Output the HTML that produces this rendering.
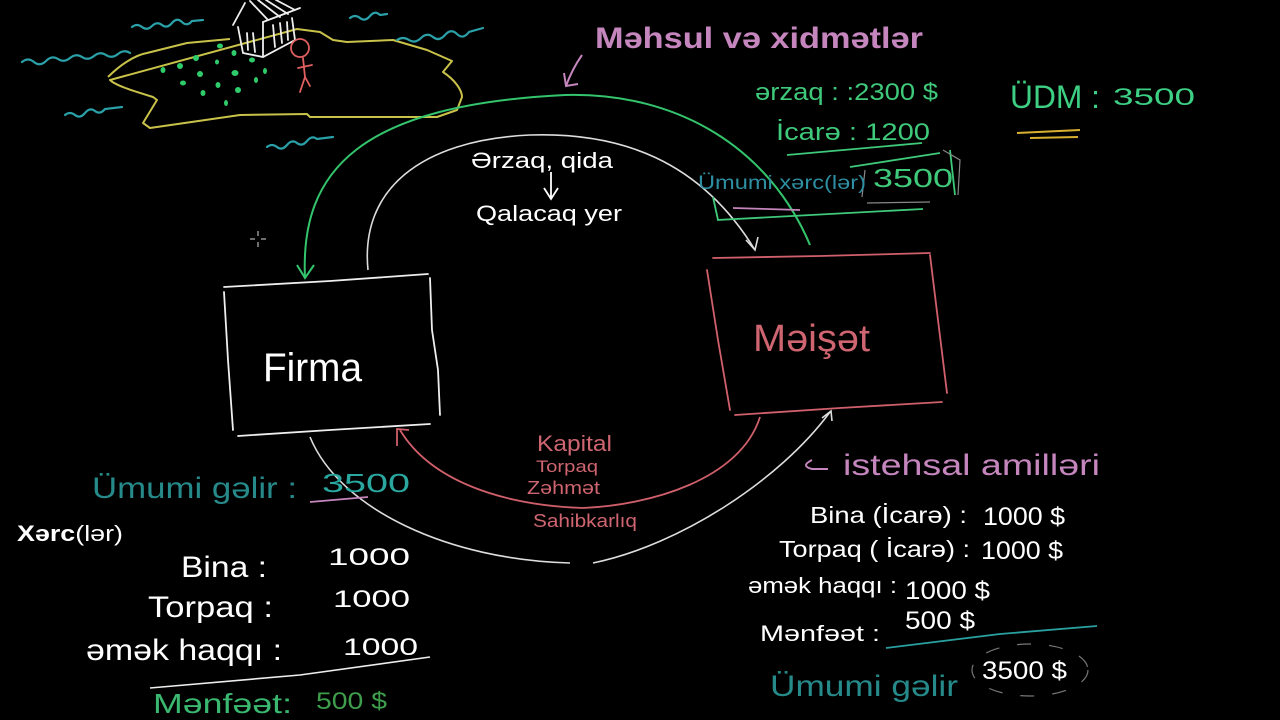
<!DOCTYPE html>
<html>
<head>
<meta charset="utf-8">
<style>
html,body{margin:0;padding:0;background:#000;}
svg{display:block;}
text{font-family:"Liberation Sans","DejaVu Sans",sans-serif;}
</style>
</head>
<body>
<svg width="1280" height="720" viewBox="0 0 1280 720" xmlns="http://www.w3.org/2000/svg">
<rect width="1280" height="720" fill="#000"/>

<!-- island -->
<path d="M108,77 C120,65 135,55 147,53 L187,43 L230,39 M297,29 L320,32 L333,40 L347,42 L393,40 L427,50 L452,61 L443,72 C455,80 462,90 462,97 L457,110 L437,117 L310,117 L307,114 L240,115 L150,128 L143,123 L157,100 L153,97 C130,90 115,85 110,80 Z" fill="none" stroke="#c9c24a" stroke-width="2" stroke-linejoin="round"/>
<!-- waves -->
<g fill="none" stroke="#2aa0a8" stroke-width="2.2" stroke-linecap="round">
<path d="M132,27 q5,-4 10,0 t10,-1 t10,-1 t10,-2 t10,-1 t10,-1 l11,-1"/>
<path d="M22,62 q6,-5 12,0 t12,-1 t12,-2 t12,-1 t12,-1 t12,-1 t12,-1 t12,-1 t12,-1"/>
<path d="M65,115 q5,-4 10,0 t10,-2 t10,-2 t10,-2 l17,-2"/>
<path d="M350,18 q5,-4 10,0 t10,-2 t10,-1 l7,-1"/>
<path d="M397,40 q6,-4 12,0 t12,-2 t12,-1 t12,-2 t12,-1 t12,-2 l14,-4"/>
<path d="M267,147 q5,-4 10,0 t10,-2 t10,-2 t10,-2 t10,-2 l16,-2"/>
</g>
<!-- house -->
<g fill="none" stroke="#eee" stroke-width="1.8" stroke-linecap="round">
<path d="M233,25 L245,3"/>
<path d="M238,27 L243,53 L263,57 L295,40 L292,18"/>
<path d="M263,22 L263,57"/>
<path d="M247,33 L248,50 M253,33 L255,52"/>
<path d="M250,1 L268,20 M258,0 L280,17 M266,0 L288,14 M276,0 L295,10 M263,22 L300,8"/>
<path d="M273,25 L275,47 M280,23 L282,43 M287,22 L288,40"/>
</g>
<!-- stick figure -->
<g fill="none" stroke="#e06060" stroke-width="1.8" stroke-linecap="round">
<circle cx="300" cy="48" r="9"/>
<path d="M303,58 L305,77 M298,68 L312,65 M305,77 L300,92 M305,77 L310,86"/>
</g>
<!-- crops -->
<g fill="#2ecc6a">
<ellipse cx="163" cy="70" rx="2.5" ry="3"/><ellipse cx="180" cy="66" rx="3" ry="3"/>
<ellipse cx="196" cy="58" rx="3" ry="3"/><ellipse cx="220" cy="46" rx="3" ry="2.5"/>
<ellipse cx="234" cy="53" rx="2.5" ry="3"/><ellipse cx="252" cy="60" rx="3" ry="2.5"/>
<ellipse cx="265" cy="71" rx="2" ry="3"/><ellipse cx="183" cy="83" rx="3" ry="2.5"/>
<ellipse cx="200" cy="74" rx="3" ry="3"/><ellipse cx="218" cy="85" rx="2.5" ry="3"/>
<ellipse cx="235" cy="73" rx="3.5" ry="3"/><ellipse cx="256" cy="80" rx="2" ry="3"/>
<ellipse cx="203" cy="93" rx="2.5" ry="3"/><ellipse cx="226" cy="103" rx="2" ry="3"/>
<ellipse cx="238" cy="90" rx="3" ry="3"/><ellipse cx="217" cy="62" rx="2" ry="2.5"/>
</g>

<!-- cursor -->
<g stroke="#ddd" stroke-width="1">
<path d="M250,239 L255,239 M261,239 L266,239 M258,231 L258,236 M258,242 L258,247"/>
</g>

<!-- green outer arc -->
<path d="M305,278 C300,170 360,105 565,95 C680,92 770,150 810,245" fill="none" stroke="#33c46c" stroke-width="2"/>
<path d="M297,265 L305,278 L314,265" fill="none" stroke="#33c46c" stroke-width="2"/>
<!-- white inner arc top -->
<path d="M368,270 C360,190 420,140 530,135 C620,132 700,160 755,250" fill="none" stroke="#ddd" stroke-width="1.6"/>
<path d="M746,240 L755,250 L758,237" fill="none" stroke="#ddd" stroke-width="1.6"/>
<!-- bottom white arcs -->
<path d="M310,437 C340,510 450,560 570,563" fill="none" stroke="#ddd" stroke-width="1.6"/>
<path d="M593,563 C680,545 780,480 830,412" fill="none" stroke="#ddd" stroke-width="1.6"/>
<path d="M822,418 L831,411 L832,421" fill="none" stroke="#ddd" stroke-width="1.6"/>
<!-- red arc -->
<path d="M760,417 C740,480 650,505 583,508 C500,505 430,480 400,430" fill="none" stroke="#cf5f6a" stroke-width="1.8"/>
<path d="M397,446 L397,429 L409,430" fill="none" stroke="#cf5f6a" stroke-width="1.8"/>

<!-- Firma box -->
<g fill="none" stroke="#eee" stroke-width="1.8" stroke-linecap="round">
<path d="M224,287 L330,281 L428,274"/>
<path d="M430,278 L432,330 L438,370 L440,415"/>
<path d="M430,424 L330,430 L238,436"/>
<path d="M224,292 L228,360 L233,430"/>
</g>
<text x="263" y="381" font-size="40" fill="#fff" textLength="99" lengthAdjust="spacingAndGlyphs">Firma</text>

<!-- Maisat box -->
<g fill="none" stroke="#d0606b" stroke-width="1.8" stroke-linecap="round">
<path d="M713,258 L820,256 L930,253"/>
<path d="M930,255 L938,320 L947,393"/>
<path d="M735,415 L840,408 L942,402"/>
<path d="M707,270 L718,340 L730,410"/>
</g>
<text x="753" y="351" font-size="38" fill="#cf6570" textLength="117" lengthAdjust="spacingAndGlyphs">Məişət</text>

<!-- top labels -->
<text x="595" y="48" font-size="30" font-weight="bold" fill="#c585bd" textLength="328" lengthAdjust="spacingAndGlyphs">Məhsul və xidmətlər</text>
<path d="M582,55 C575,65 570,75 566,86 M564,73 L566,86 L578,84" fill="none" stroke="#c585bd" stroke-width="2"/>

<text x="471" y="168" font-size="22" fill="#fff" textLength="142" lengthAdjust="spacingAndGlyphs">Ərzaq, qida</text>
<path d="M551,172 L551,198 M544,188 L551,199 L558,188" fill="none" stroke="#fff" stroke-width="1.8"/>
<text x="476" y="221" font-size="22" fill="#fff" textLength="146" lengthAdjust="spacingAndGlyphs">Qalacaq yer</text>

<text x="755" y="100" font-size="24" fill="#3fc97a" textLength="183" lengthAdjust="spacingAndGlyphs">ərzaq : :2300 $</text>
<text x="776" y="140" font-size="24" fill="#3fc97a" textLength="154" lengthAdjust="spacingAndGlyphs">İcarə : 1200</text>
<g fill="none" stroke="#3fc97a" stroke-width="1.8">
<path d="M787,155 L922,143"/>
<path d="M850,167 L940,153"/>
<path d="M950,150 L955,195"/>
<path d="M713,197 L718,220"/>
<path d="M717,220 L923,209"/>
</g>
<path d="M733,208 L800,210" stroke="#c585bd" stroke-width="1.8" fill="none"/>
<g fill="none" stroke="#888" stroke-width="1.2">
<path d="M865,170 L862,197 M867,203 L930,202 M943,150 L960,160 L958,195"/>
</g>
<text x="698" y="189" font-size="19" fill="#2e8fa3" textLength="168" lengthAdjust="spacingAndGlyphs">Ümumi xərc(lər)</text>
<text x="873" y="187" font-size="26" fill="#3fc97a" textLength="80" lengthAdjust="spacingAndGlyphs">3500</text>

<text x="1010" y="108" font-size="32" fill="#3dcf83" textLength="90" lengthAdjust="spacingAndGlyphs">ÜDM :</text>
<text x="1113" y="105" font-size="24" fill="#3dcf83" textLength="82" lengthAdjust="spacingAndGlyphs">3500</text>
<path d="M1017,133 L1080,130 M1030,138 L1078,137" stroke="#d8b030" stroke-width="2" fill="none"/>

<!-- red labels -->
<text x="537" y="451" font-size="22" fill="#cf6570" textLength="75" lengthAdjust="spacingAndGlyphs">Kapital</text>
<text x="536" y="472" font-size="17" fill="#cf6570" textLength="62" lengthAdjust="spacingAndGlyphs">Torpaq</text>
<text x="527" y="494" font-size="18" fill="#cf6570" textLength="73" lengthAdjust="spacingAndGlyphs">Zəhmət</text>
<text x="533" y="527" font-size="18" fill="#cf6570" textLength="104" lengthAdjust="spacingAndGlyphs">Sahibkarlıq</text>

<!-- left bottom -->
<text x="92" y="498" font-size="30" fill="#268a8a" textLength="205" lengthAdjust="spacingAndGlyphs">Ümumi gəlir :</text>
<text x="322" y="492" font-size="26" fill="#2aa8a0" textLength="88" lengthAdjust="spacingAndGlyphs">3500</text>
<path d="M310,502 L368,497" stroke="#c585bd" stroke-width="1.8" fill="none"/>
<text x="17" y="541" font-size="22" fill="#fff" textLength="106" lengthAdjust="spacingAndGlyphs"><tspan font-weight="bold">Xərc</tspan>(lər)</text>
<text x="181" y="577" font-size="30" fill="#fff" textLength="86" lengthAdjust="spacingAndGlyphs">Bina :</text>
<text x="328" y="565" font-size="24" fill="#fff" textLength="82" lengthAdjust="spacingAndGlyphs">1000</text>
<text x="148" y="617" font-size="30" fill="#fff" textLength="125" lengthAdjust="spacingAndGlyphs">Torpaq :</text>
<text x="333" y="607" font-size="24" fill="#fff" textLength="77" lengthAdjust="spacingAndGlyphs">1000</text>
<text x="86" y="660" font-size="30" fill="#fff" textLength="196" lengthAdjust="spacingAndGlyphs">əmək haqqı :</text>
<text x="343" y="655" font-size="24" fill="#fff" textLength="75" lengthAdjust="spacingAndGlyphs">1000</text>
<path d="M150,688 L300,675 L430,657" stroke="#eee" stroke-width="1.6" fill="none"/>
<text x="153" y="713" font-size="28" fill="#3ab870" textLength="139" lengthAdjust="spacingAndGlyphs">Mənfəət:</text>
<text x="316" y="709" font-size="24" fill="#3f9e4c" textLength="71" lengthAdjust="spacingAndGlyphs">500 $</text>

<!-- right bottom -->
<path d="M812,460 Q800,466 812,469 L828,469" fill="none" stroke="#c585bd" stroke-width="2"/>
<text x="843" y="475" font-size="30" fill="#c585bd" textLength="257" lengthAdjust="spacingAndGlyphs">istehsal amilləri</text>
<text x="810" y="523" font-size="23" fill="#fff" textLength="157" lengthAdjust="spacingAndGlyphs">Bina (İcarə) :</text>
<text x="983" y="525" font-size="25" fill="#fff" textLength="82" lengthAdjust="spacingAndGlyphs">1000 $</text>
<text x="779" y="557" font-size="23" fill="#fff" textLength="191" lengthAdjust="spacingAndGlyphs">Torpaq ( İcarə) :</text>
<text x="981" y="559" font-size="25" fill="#fff" textLength="82" lengthAdjust="spacingAndGlyphs">1000 $</text>
<text x="748" y="593" font-size="22" fill="#fff" textLength="149" lengthAdjust="spacingAndGlyphs">əmək haqqı :</text>
<text x="905" y="599" font-size="25" fill="#fff" textLength="85" lengthAdjust="spacingAndGlyphs">1000 $</text>
<text x="760" y="641" font-size="22" fill="#fff" textLength="120" lengthAdjust="spacingAndGlyphs">Mənfəət :</text>
<text x="905" y="629" font-size="25" fill="#fff" textLength="70" lengthAdjust="spacingAndGlyphs">500 $</text>
<path d="M886,648 L1000,634 L1097,626" stroke="#2aa0a0" stroke-width="1.8" fill="none"/>
<text x="770" y="696" font-size="30" fill="#268a8a" textLength="188" lengthAdjust="spacingAndGlyphs">Ümumi gəlir</text>
<text x="982" y="679" font-size="25" fill="#fff" textLength="85" lengthAdjust="spacingAndGlyphs">3500 $</text>
<ellipse cx="1030" cy="670" rx="58" ry="26" fill="none" stroke="#777" stroke-width="1.2" stroke-dasharray="14 18"/>
</svg>
</body>
</html>
